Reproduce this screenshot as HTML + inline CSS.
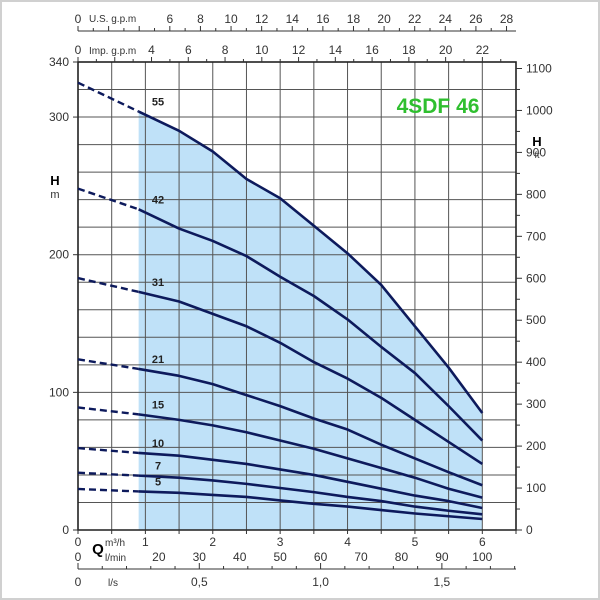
<!DOCTYPE html>
<html><head><meta charset="utf-8"><style>
html,body{margin:0;padding:0;background:#fff}
svg{display:block;font-family:"Liberation Sans",Arial,sans-serif}
</style></head><body>
<svg id="chart" width="600" height="600" viewBox="0 0 600 600" xmlns="http://www.w3.org/2000/svg">
<rect x="1" y="1" width="598" height="598" fill="#fff" stroke="#d0d0d0" stroke-width="2"/>
<g id="fillLayer"></g>
<g id="gridLayer"></g>
<g id="curveLayer"></g>
<g id="axisLayer"></g>
<text x="438" y="113" font-size="21" font-weight="bold" fill="#2fbf2f" text-anchor="middle">4SDF 46</text>
<text x="55" y="185" font-size="13" font-weight="bold" text-anchor="middle">H</text>
<text x="55" y="198" font-size="11" text-anchor="middle" fill="#333">m</text>
<text x="537" y="146" font-size="13" font-weight="bold" text-anchor="middle">H</text>
<text x="537" y="158" font-size="9" text-anchor="middle" fill="#333">ft</text>
<text x="98" y="554" font-size="15" font-weight="bold" text-anchor="middle">Q</text>
<text x="105" y="546" font-size="10" fill="#333">m³/h</text>
<text x="105" y="561" font-size="10" fill="#333">l/min</text>
<text x="108" y="586" font-size="10" fill="#333">l/s</text>
<text x="89" y="22" font-size="10" fill="#333">U.S. g.p.m</text>
<text x="89" y="54" font-size="10" fill="#333">Imp. g.p.m</text>
</svg>
<script>
const curveNames = ["55","42","31","21","15","10","7","5"];
const qDashed = [0, 0.9];
const qSolid = [0.9, 1.5, 2.0, 2.5, 3.0, 3.5, 4.0, 4.5, 5.0, 5.5, 6.0];
const h55 = [304, 290, 275, 255, 241, 221, 201, 178, 148, 118, 85];
const h42 = [233, 219, 210, 199, 184, 170, 153, 133, 114, 90, 65];
const h31 = [173, 166, 157, 148, 136, 122, 110, 96, 80, 64, 48];
const h21 = [117, 112, 106, 98, 90, 81, 73, 62, 52, 42, 32.5];
const h15 = [84, 80, 76, 71, 65, 59, 52, 45, 38, 30, 23.5];
const h10 = [56, 54, 51, 48, 44, 40, 35, 30, 25, 21, 16];
const h7 = [39.5, 38, 36, 33.5, 30.5, 27.5, 24, 21, 17, 14, 11.4];
const h5 = [28, 27, 25.5, 24, 21.5, 19, 17, 14.5, 12, 10, 8];
const hShutoff = [325, 248, 183, 124, 89, 59.5, 41.6, 29.8];
const mTicks = [0, 100, 200, 300, 340];
const ftTicks = [0,100,200,300,400,500,600,700,800,900,1000,1100];
const m3hTicks = [0,1,2,3,4,5,6];
const lminTicks = [20,30,40,50,60,70,80,90,100];
const lsTicks = [0.5,1.0,1.5];
const usTicks = [6,8,10,12,14,16,18,20,22,24,26,28];
const impTicks = [4,6,8,10,12,14,16,18,20,22];

const X0=78, X1=516, Y0=530, Y1=62, QMAX=6.5, HMAX=340;
const xs = q => X0 + q*(X1-X0)/QMAX;
const ys = h => Y0 - h*(Y0-Y1)/HMAX;
const ft2y = f => ys(f*0.3048);
const NS="http://www.w3.org/2000/svg";
function mk(tag, parent, attrs){const e=document.createElementNS(NS,tag);for(const k in attrs)e.setAttribute(k,attrs[k]);parent.appendChild(e);return e;}
const fillL=document.getElementById('fillLayer'), gridL=document.getElementById('gridLayer'), curveL=document.getElementById('curveLayer'), axisL=document.getElementById('axisLayer');
const series=[h55,h42,h31,h21,h15,h10,h7,h5];

// operating region fill
let d = `M${xs(qSolid[0])},${ys(0)}`;
qSolid.forEach((q,i)=>{d+=` L${xs(q)},${ys(h55[i])}`;});
d += ` L${xs(6)},${ys(0)} Z`;
const area = mk('path', fillL, {d:d, fill:'#bfe1f8'});



// grid
for(let q=0.5;q<QMAX;q+=0.5){
  const l=mk('line',gridL,{x1:xs(q),x2:xs(q),y1:Y1,y2:Y0,stroke:'#555','stroke-width':1});
  
  
}
for(let h=20;h<HMAX;h+=20){
  const l=mk('line',gridL,{x1:X0,x2:X1,y1:ys(h),y2:ys(h),stroke:'#555','stroke-width':1});
  
  
}
const frame=mk('rect',gridL,{x:X0,y:Y1,width:X1-X0,height:Y0-Y1,fill:'none',stroke:'#222','stroke-width':1.6});



// curves
series.forEach((arr,k)=>{
  let p=''; qSolid.forEach((q,i)=>{p+=(i?' L':'M')+xs(q)+','+ys(arr[i]);});
  const s=mk('path',curveL,{d:p,fill:'none',stroke:'#0d1a5c','stroke-width':2.6,'stroke-linejoin':'round'});
  
  
  const dl=mk('line',curveL,{x1:xs(qDashed[0]),y1:ys(hShutoff[k]),x2:xs(qDashed[1]),y2:ys(arr[0]),stroke:'#0d1a5c','stroke-width':2.4,'stroke-dasharray':'7,4'});
  
  
  const t=mk('text',curveL,{x:158,y:ys(arr[0])-6,'font-size':11,'font-weight':'bold',fill:'#222','text-anchor':'middle'});
  t.textContent=curveNames[k];
  
  
});

function txt(x,y,s,anchor,name,size){const t=mk('text',axisL,{x:x,y:y,'font-size':size||12,fill:'#333','text-anchor':anchor});t.textContent=s;
  
  return t;}
function tk(x1,y1,x2,y2,name){const l=mk('line',axisL,{x1:x1,y1:y1,x2:x2,y2:y2,stroke:'#333','stroke-width':1});
  
  }

// left m axis
mTicks.forEach(h=>{tk(X0-5,ys(h),X0,ys(h),'y-tick-m');txt(69,ys(h)+4,String(h),'end','y-tick-label-m');});
// right ft axis
for(let f=0;f<=1100;f+=50){tk(X1,ft2y(f),X1+(f%100?4:6),ft2y(f),'y-tick-ft');}
ftTicks.forEach(f=>txt(526,ft2y(f)+4,String(f),'start','y-tick-label-ft'));
// bottom m3/h
tk(X0,Y0,X1,Y0,'x-axis-line');
for(let q=0;q<=6.5;q+=0.5)tk(xs(q),Y0,xs(q),Y0+4,'x-tick-m3h');
m3hTicks.forEach(q=>txt(xs(q),546,String(q),'middle','x-tick-label-m3h'));
txt(X0,561,'0','middle','x-tick-label-lmin');
lminTicks.forEach(v=>txt(xs(v*0.06),561,String(v),'middle','x-tick-label-lmin'));
// l/s axis
tk(X0,569,X1,569,'ls-axis-line');
for(let v=0;v*3.6<=6.5;v+=0.1)tk(xs(v*3.6),Math.round(v*10)%5?566:563,xs(v*3.6),569,'x-tick-ls');
txt(X0,586,'0','middle','x-tick-label-ls');
lsTicks.forEach(v=>txt(xs(v*3.6),586,v.toFixed(1).replace('.',','),'middle','x-tick-label-ls'));
// top US gpm axis
tk(X0,31,X1,31,'usgpm-axis-line');
for(let g=0;g/4.403<=6.5;g+=1)tk(xs(g/4.403),g%2?28:26,xs(g/4.403),31,'x-tick-usgpm');
txt(X0,23,'0','middle','x-tick-label-usgpm');
usTicks.forEach(g=>txt(xs(g/4.403),23,String(g),'middle','x-tick-label-usgpm'));
// Imp gpm on top of frame
for(let g=0;g/3.666<=6.5;g+=1)tk(xs(g/3.666),g%2?59:57,xs(g/3.666),Y1,'x-tick-impgpm');
txt(X0,54,'0','middle','x-tick-label-impgpm');
impTicks.forEach(g=>txt(xs(g/3.666),54,String(g),'middle','x-tick-label-impgpm'));
</script>
</body></html>
